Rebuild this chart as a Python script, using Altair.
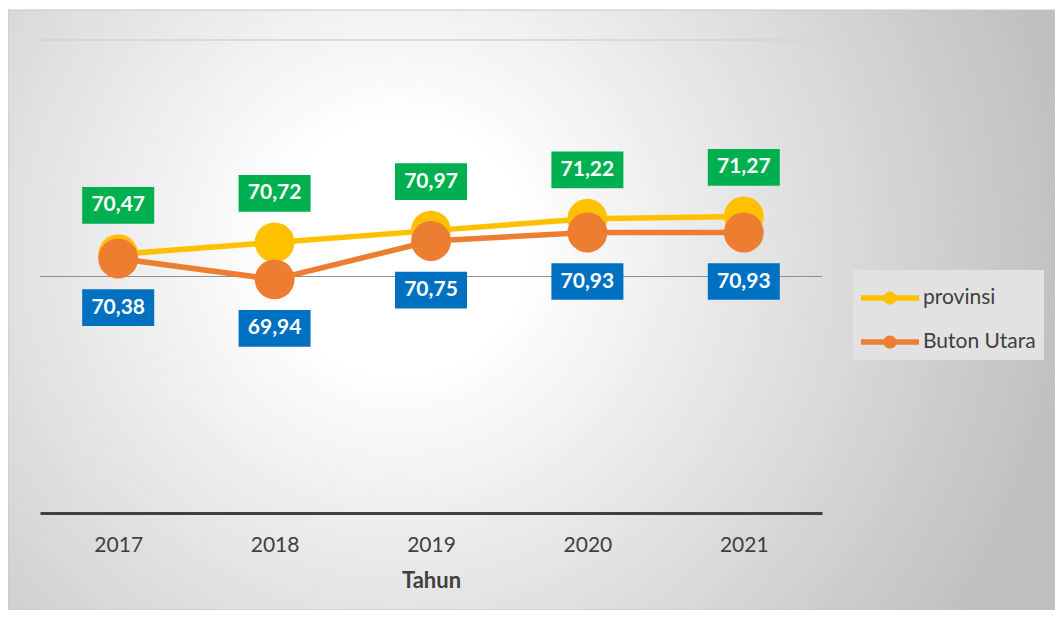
import altair as alt
import pandas as pd

years = ["2017", "2018", "2019", "2020", "2021"]
provinsi = [70.47, 70.72, 70.97, 71.22, 71.27]
buton_utara = [70.38, 69.94, 70.75, 70.93, 70.93]
series_names = ["provinsi", "Buton Utara"]
series_colors = ["#FFC000", "#ED7D31"]


def fmt(v):
    return f"{v:.2f}".replace(".", ",")


rows = []
for s, vals in zip(series_names, [provinsi, buton_utara]):
    for yr, v in zip(years, vals):
        rows.append({"Tahun": yr, "value": v, "series": s, "label": fmt(v)})
df = pd.DataFrame(rows)

W, H = 782, 473
PAD_L, PAD_T, PAD_R, PAD_B = 32, 32, 233, 97
FONT = "Lato"

x_axis = alt.Axis(
    labelFont=FONT, labelFontSize=21, labelColor="#404040", labelPadding=21,
    ticks=False, domainColor="#404040", domainWidth=3,
    titleFont=FONT, titleFontSize=22, titleFontWeight="bold", titleColor="#404040",
    titlePadding=15, labelAngle=0, grid=False, zindex=1,
)
x_enc = alt.X("Tahun:N", scale=alt.Scale(type="point", padding=0.5, domain=years),
              axis=x_axis, title="Tahun")
y_scale = alt.Scale(domain=[65, 75], nice=False, zero=False)
y_enc = alt.Y("value:Q", scale=y_scale, axis=None)
color_scale = alt.Scale(domain=series_names, range=series_colors)

legend_path = ("M-1,-0.135 L1.9,-0.135 L1.9,0.135 L-1,0.135 Z "
               "M0.12,0 A0.33,0.33 0 1,1 0.78,0 A0.33,0.33 0 1,1 0.12,0 Z")
legend = alt.Legend(
    title=None, orient="none", legendX=813, legendY=230,
    symbolType=legend_path, symbolSize=1600, symbolStrokeWidth=0, symbolOpacity=1,
    labelFont=FONT, labelFontSize=21, labelColor="#404040", labelOffset=22,
    rowPadding=14, padding=8, fillColor="#e2e2e2",
)
color_enc = alt.Color("series:N", scale=color_scale, legend=legend)

gradient = alt.Gradient(
    gradient="radial",
    stops=[
        alt.GradientStop(color="#ffffff", offset=0),
        alt.GradientStop(color="#ffffff", offset=0.18),
        alt.GradientStop(color="#bfbfbf", offset=1),
    ],
    x1=0.374, y1=0.44, r1=0,
    x2=0.374, y2=0.44, r2=0.65,
)

one_df = pd.DataFrame({"k": [1]})
bg = alt.Chart(one_df).mark_rect(fill=gradient, stroke="#c6c6c6", strokeWidth=1).encode(
    x=alt.value(-PAD_L), x2=alt.value(W + PAD_R), y=alt.value(-30), y2=alt.value(H + PAD_B)
)
grid75 = alt.Chart(pd.DataFrame({"g": [75]})).mark_rule(color="#d3d3d3", strokeWidth=1.5).encode(
    y=alt.Y("g:Q", scale=y_scale, axis=None)
)
grid70 = alt.Chart(pd.DataFrame({"g": [70]})).mark_rule(color="#8f8f8f", strokeWidth=1.2).encode(
    y=alt.Y("g:Q", scale=y_scale, axis=None)
)

base = alt.Chart(df)


def series_layers(name):
    src = base.transform_filter(alt.datum.series == name)
    pts = src.mark_point(filled=True, opacity=1, size=1590, shape="circle").encode(
        x=x_enc, y=y_enc, color=color_enc)
    line = src.mark_line(strokeWidth=5.5).encode(x=x_enc, y=y_enc, color=color_enc)
    return [pts, line]


box_path = "M-1,-0.51 L1,-0.51 L1,0.51 L-1,0.51 Z"


def label_layers(name, box_color, offset):
    src = base.transform_filter(alt.datum.series == name)
    box = src.mark_point(shape=box_path, size=5184, filled=True, opacity=1, strokeWidth=0,
                         color=box_color, yOffset=offset).encode(x=x_enc, y=y_enc)
    txt = src.mark_text(font=FONT, fontSize=21, fontWeight="bold", color="white",
                        baseline="middle", align="center", dy=offset).encode(
        x=x_enc, y=y_enc, text="label:N")
    return [box, txt]


layers = [bg, grid75, grid70]
layers += series_layers("provinsi")
layers += series_layers("Buton Utara")
layers += label_layers("provinsi", "#00B050", -49)
layers += label_layers("Buton Utara", "#0070C0", 49)

chart = alt.layer(*layers).properties(
    width=W, height=H,
    autosize=alt.AutoSizeParams(type="none"),
    padding={"left": PAD_L, "top": PAD_T, "right": PAD_R, "bottom": PAD_B},
    background="white",
).configure_view(stroke=None)

chart.save("out.html", embed_options={"renderer": "svg", "actions": False})
